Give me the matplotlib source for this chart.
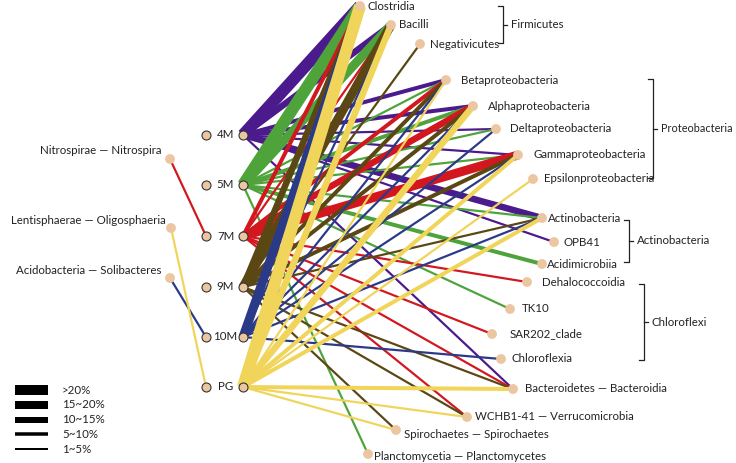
import matplotlib.pyplot as plt

# sample groups (left column) and their colours
groups = ['4M', '5M', '7M', '9M', '10M', 'PG']
group_colors = ['#4B1A8C', '#4EA43B', '#D2171F', '#5B4714', '#2A3A88', '#F0D55A']

# edges: (target class, abundance class 1..5)
edges_4M = [('Clostridia', 5), ('Bacilli', 3), ('Betaproteobacteria', 2),
            ('Alphaproteobacteria', 2), ('Deltaproteobacteria', 1),
            ('Gammaproteobacteria', 1), ('Actinobacteria', 3), ('OPB41', 1),
            ('Bacteroidetes', 1)]
edges_5M = [('Clostridia', 5), ('Bacilli', 4), ('Betaproteobacteria', 1),
            ('Alphaproteobacteria', 2), ('Deltaproteobacteria', 1),
            ('Gammaproteobacteria', 1), ('Actinobacteria', 1),
            ('Acidimicrobiia', 2), ('TK10', 1), ('Planctomycetia', 1)]
edges_7M = [('Clostridia', 2), ('Bacilli', 1), ('Betaproteobacteria', 2),
            ('Alphaproteobacteria', 3), ('Gammaproteobacteria', 4),
            ('Dehalococcoidia', 1), ('SAR202_clade', 1), ('Bacteroidetes', 1),
            ('WCHB1-41', 1), ('Nitrospira', 1)]
edges_9M = [('Clostridia', 3), ('Bacilli', 4), ('Negativicutes', 1),
            ('Betaproteobacteria', 2), ('Alphaproteobacteria', 2),
            ('Gammaproteobacteria', 2), ('Actinobacteria', 1),
            ('Bacteroidetes', 1), ('WCHB1-41', 1), ('Spirochaetes', 1)]
edges_10M = [('Clostridia', 4), ('Bacilli', 1), ('Betaproteobacteria', 1),
             ('Alphaproteobacteria', 1), ('Deltaproteobacteria', 1),
             ('Gammaproteobacteria', 1), ('Actinobacteria', 1),
             ('Chloroflexia', 1), ('Solibacteres', 1)]
edges_PG = [('Clostridia', 5), ('Bacilli', 3), ('Betaproteobacteria', 1),
            ('Alphaproteobacteria', 3), ('Gammaproteobacteria', 2),
            ('Epsilonproteobacteria', 1), ('Actinobacteria', 2),
            ('Bacteroidetes', 2), ('WCHB1-41', 1), ('Spirochaetes', 1),
            ('Oligosphaeria', 1)]
group_edges = [edges_4M, edges_5M, edges_7M, edges_9M, edges_10M, edges_PG]

legend_labels = ['>20%', '15~20%', '10~15%', '5~10%', '1~5%']

# ---- layout (pixel coordinates) ----
group_y = {'4M': 135, '5M': 185, '7M': 236, '9M': 287, '10M': 337, 'PG': 387}
node_pos = {
    'Clostridia': (360, 6), 'Bacilli': (391, 25), 'Negativicutes': (420, 44),
    'Betaproteobacteria': (446, 80), 'Alphaproteobacteria': (473, 106),
    'Deltaproteobacteria': (496, 129), 'Gammaproteobacteria': (518, 155),
    'Epsilonproteobacteria': (533, 179),
    'Actinobacteria': (542, 218), 'OPB41': (554, 242), 'Acidimicrobiia': (542, 264),
    'Dehalococcoidia': (527, 282), 'TK10': (510, 309), 'SAR202_clade': (492, 334),
    'Chloroflexia': (501, 359),
    'Bacteroidetes': (513, 389), 'WCHB1-41': (467, 417),
    'Spirochaetes': (396, 430), 'Planctomycetia': (368, 454),
    'Nitrospira': (170, 159), 'Oligosphaeria': (171, 228), 'Solibacteres': (170, 278),
}
left_nodes = ['Nitrospira', 'Oligosphaeria', 'Solibacteres']
node_labels = {
    'Clostridia': 'Clostridia', 'Bacilli': 'Bacilli', 'Negativicutes': 'Negativicutes',
    'Betaproteobacteria': 'Betaproteobacteria', 'Alphaproteobacteria': 'Alphaproteobacteria',
    'Deltaproteobacteria': 'Deltaproteobacteria', 'Gammaproteobacteria': 'Gammaproteobacteria',
    'Epsilonproteobacteria': 'Epsilonproteobacteria', 'Actinobacteria': 'Actinobacteria',
    'OPB41': 'OPB41', 'Acidimicrobiia': 'Acidimicrobiia', 'Dehalococcoidia': 'Dehalococcoidia',
    'TK10': 'TK10', 'SAR202_clade': 'SAR202_clade', 'Chloroflexia': 'Chloroflexia',
    'Bacteroidetes': 'Bacteroidetes \u2014 Bacteroidia',
    'WCHB1-41': 'WCHB1-41 \u2014 Verrucomicrobia',
    'Spirochaetes': 'Spirochaetes \u2014 Spirochaetes',
    'Planctomycetia': 'Planctomycetia \u2014 Planctomycetes',
    'Nitrospira': 'Nitrospirae \u2014 Nitrospira',
    'Oligosphaeria': 'Lentisphaerae \u2014 Oligosphaeria',
    'Solibacteres': 'Acidobacteria \u2014 Solibacteres',
}
label_off = {'Clostridia': (8, 0), 'Bacilli': (8, 0), 'Negativicutes': (10, 0),
             'Betaproteobacteria': (15, 0), 'Alphaproteobacteria': (15, 0),
             'Deltaproteobacteria': (14, 0), 'Gammaproteobacteria': (16, 0),
             'Epsilonproteobacteria': (11, 0), 'Actinobacteria': (6, 0),
             'OPB41': (9, 0), 'Acidimicrobiia': (5, 0), 'Dehalococcoidia': (15, 0),
             'TK10': (12, 0), 'SAR202_clade': (18, 0), 'Chloroflexia': (10, 0),
             'Bacteroidetes': (12, 0), 'WCHB1-41': (8, 0), 'Spirochaetes': (8, 4),
             'Planctomycetia': (6, 2),
             'Nitrospira': (-9, -8), 'Oligosphaeria': (-5, -8), 'Solibacteres': (-9, -8)}
width_px = {5: 12, 4: 9, 3: 6.5, 2: 4, 1: 2.2}
PX = 0.72  # points per pixel at dpi 100

plt.rcParams['font.family'] = ['Lato', 'DejaVu Sans']
fig = plt.figure(figsize=(7.36, 4.63), dpi=100)
ax = fig.add_axes([0, 0, 1, 1])
ax.set_xlim(0, 736)
ax.set_ylim(463, 0)
ax.axis('off')

fs = 8.3
x_src_r, x_src_l = 243, 206

# edges
for g, col, elist in zip(groups, group_colors, group_edges):
    y0 = group_y[g]
    for tgt, cls in elist:
        tx, ty = node_pos[tgt]
        x0 = x_src_l if tgt in left_nodes else x_src_r
        ax.plot([x0, tx], [y0, ty], color=col, lw=width_px[cls] * PX,
                solid_capstyle='butt', zorder=2)

# group nodes
for g in groups:
    y = group_y[g]
    ax.scatter([x_src_l, x_src_r], [y, y], s=42, color='#EBC6A0',
               edgecolors='#333333', linewidths=0.8, zorder=4)
    ax.text((x_src_l + x_src_r) / 2 + 1, y, g, ha='center', va='center',
            fontsize=fs, color='#222222', zorder=5)

# class nodes
for name, (x, y) in node_pos.items():
    ax.scatter([x], [y], s=50, color='#EBC6A0', edgecolors='none', zorder=4)
    dx, dy = label_off[name]
    ha = 'right' if name in left_nodes else 'left'
    ax.text(x + dx, y + dy, node_labels[name], ha=ha, va='center',
            fontsize=fs, color='#222222', zorder=5)


def bracket(x, y0, y1, label, tick=5, size=fs):
    kw = dict(color='#222222', lw=0.9, zorder=3)
    ax.plot([x - tick, x, x, x - tick], [y0, y0, y1, y1], **kw)
    ym = (y0 + y1) / 2
    ax.plot([x, x + 4], [ym, ym], **kw)
    ax.text(x + 8, ym, label, ha='left', va='center', fontsize=size, color='#222222')


bracket(503, 6, 43, 'Firmicutes')
bracket(653, 79, 178, 'Proteobacteria', size=7.8)
bracket(629, 220, 262, 'Actinobacteria')
bracket(644, 284, 360, 'Chloroflexi')

# width legend
for i, lab in enumerate(legend_labels):
    y = 390 + i * 14.8
    ax.plot([15, 48], [y, y], color='black', lw=[10, 8, 6, 3.5, 2][i] * PX,
            solid_capstyle='butt')
    ax.text(62, y, lab, ha='left', va='center', fontsize=fs, color='#222222')

fig.savefig('out.png', dpi=100)
